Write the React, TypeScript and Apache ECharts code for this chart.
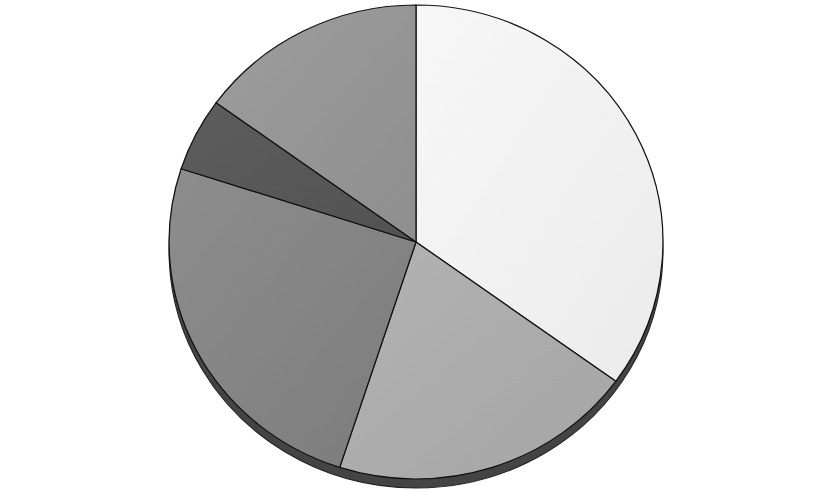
import { useRef, useEffect } from 'react'
import * as echarts from 'echarts'

const sliceNames = ['A', 'B', 'C', 'D', 'E']
const sliceValues = [35, 20, 25, 5, 15]
const sliceLight = ['#f7f7f7', '#b3b3b3', '#8d8d8d', '#5d5d5d', '#9d9d9d']
const sliceDark = ['#ebebeb', '#a5a5a5', '#7c7c7c', '#525252', '#8e8e8e']

function App() {
  const chartRef = useRef<HTMLDivElement>(null)

  useEffect(() => {
    if (!chartRef.current) return
    const chart = echarts.init(chartRef.current, null, { renderer: 'svg' })

    const topData = sliceNames.map((name, i) => ({
      name,
      value: sliceValues[i],
      itemStyle: {
        color: new echarts.graphic.LinearGradient(0, 0, 1, 1, [
          { offset: 0, color: sliceLight[i] },
          { offset: 1, color: sliceDark[i] }
        ])
      }
    }))

    chart.setOption({
      animation: false,
      series: [
        // dark rim under the disc
        {
          type: 'pie',
          silent: true,
          center: [416, 251],
          radius: 237,
          startAngle: 90,
          z: 1,
          label: { show: false },
          labelLine: { show: false },
          itemStyle: { color: '#444', borderColor: '#222', borderWidth: 1 },
          data: [{ name: 'rim', value: 1 }]
        },
        {
          type: 'pie',
          silent: true,
          center: [416, 242],
          radius: 237,
          startAngle: 90,
          z: 2,
          label: { show: false },
          labelLine: { show: false },
          itemStyle: { borderColor: '#111', borderWidth: 1.2 },
          data: topData
        }
      ]
    })

    return () => chart.dispose()
  }, [])

  return (
    <div
      ref={chartRef}
      style={{
        position: 'absolute',
        left: 0,
        top: 0,
        width: '834px',
        height: '495px',
        transform: 'scaleX(1.042)',
        transformOrigin: '416px 242px'
      }}
    ></div>
  )
}

export default App
